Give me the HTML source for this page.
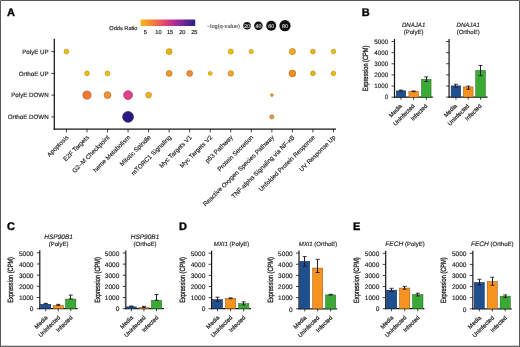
<!DOCTYPE html>
<html><head><meta charset="utf-8"><style>
html,body{margin:0;padding:0;background:#fff;}
body{width:520px;height:347px;overflow:hidden;}
svg{display:block;font-family:"Liberation Sans", sans-serif;will-change:transform;text-rendering:geometricPrecision;}
text{stroke:currentColor;stroke-width:0.15px;}
</style></head><body>
<svg width="520" height="347" viewBox="0 0 520 347">
<rect x="0" y="0" width="520" height="347" fill="#fff"/>
<text x="7.00" y="16.10" font-size="11" text-anchor="start" font-weight="bold" fill="#000" color="#000" style="stroke-width:0.35px">A</text>
<text x="361.80" y="16.40" font-size="11" text-anchor="start" font-weight="bold" fill="#000" color="#000" style="stroke-width:0.35px">B</text>
<text x="7.00" y="230.30" font-size="11" text-anchor="start" font-weight="bold" fill="#000" color="#000" style="stroke-width:0.35px">C</text>
<text x="179.00" y="230.30" font-size="11" text-anchor="start" font-weight="bold" fill="#000" color="#000" style="stroke-width:0.35px">D</text>
<text x="353.10" y="229.70" font-size="11" text-anchor="start" font-weight="bold" fill="#000" color="#000" style="stroke-width:0.35px">E</text>
<line x1="54.30" y1="38.80" x2="54.30" y2="129.80" stroke="#141414" stroke-width="1.25"/>
<line x1="53.70" y1="129.20" x2="336.00" y2="129.20" stroke="#141414" stroke-width="1.25"/>
<line x1="51.30" y1="51.60" x2="54.30" y2="51.60" stroke="#141414" stroke-width="0.8"/>
<text x="48.70" y="53.80" font-size="6.2" text-anchor="end" fill="#1c1c1c" color="#1c1c1c" >PolyE UP</text>
<line x1="51.30" y1="73.40" x2="54.30" y2="73.40" stroke="#141414" stroke-width="0.8"/>
<text x="48.70" y="75.60" font-size="6.2" text-anchor="end" fill="#1c1c1c" color="#1c1c1c" >OrthoE UP</text>
<line x1="51.30" y1="95.10" x2="54.30" y2="95.10" stroke="#141414" stroke-width="0.8"/>
<text x="48.70" y="97.30" font-size="6.2" text-anchor="end" fill="#1c1c1c" color="#1c1c1c" >PolyE DOWN</text>
<line x1="51.30" y1="116.90" x2="54.30" y2="116.90" stroke="#141414" stroke-width="0.8"/>
<text x="48.70" y="119.10" font-size="6.2" text-anchor="end" fill="#1c1c1c" color="#1c1c1c" >OrthoE DOWN</text>
<line x1="66.45" y1="129.20" x2="66.45" y2="132.40" stroke="#141414" stroke-width="0.8"/>
<text x="68.95" y="137.80" font-size="6.25" text-anchor="end" fill="#1c1c1c" color="#1c1c1c" transform="rotate(-45 68.95 137.80)">Apoptosis</text>
<line x1="86.99" y1="129.20" x2="86.99" y2="132.40" stroke="#141414" stroke-width="0.8"/>
<text x="89.49" y="137.80" font-size="6.25" text-anchor="end" fill="#1c1c1c" color="#1c1c1c" transform="rotate(-45 89.49 137.80)">E2F Targets</text>
<line x1="107.53" y1="129.20" x2="107.53" y2="132.40" stroke="#141414" stroke-width="0.8"/>
<text x="110.03" y="137.80" font-size="6.25" text-anchor="end" fill="#1c1c1c" color="#1c1c1c" transform="rotate(-45 110.03 137.80)">G2–M Checkpoint</text>
<line x1="128.07" y1="129.20" x2="128.07" y2="132.40" stroke="#141414" stroke-width="0.8"/>
<text x="130.57" y="137.80" font-size="6.25" text-anchor="end" fill="#1c1c1c" color="#1c1c1c" transform="rotate(-45 130.57 137.80)">heme Metabolism</text>
<line x1="148.61" y1="129.20" x2="148.61" y2="132.40" stroke="#141414" stroke-width="0.8"/>
<text x="151.11" y="137.80" font-size="6.25" text-anchor="end" fill="#1c1c1c" color="#1c1c1c" transform="rotate(-45 151.11 137.80)">Mitotic Spindle</text>
<line x1="169.15" y1="129.20" x2="169.15" y2="132.40" stroke="#141414" stroke-width="0.8"/>
<text x="171.65" y="137.80" font-size="6.25" text-anchor="end" fill="#1c1c1c" color="#1c1c1c" transform="rotate(-45 171.65 137.80)">mTORC1 Signaling</text>
<line x1="189.69" y1="129.20" x2="189.69" y2="132.40" stroke="#141414" stroke-width="0.8"/>
<text x="192.19" y="137.80" font-size="6.25" text-anchor="end" fill="#1c1c1c" color="#1c1c1c" transform="rotate(-45 192.19 137.80)">Myc Targets V1</text>
<line x1="210.23" y1="129.20" x2="210.23" y2="132.40" stroke="#141414" stroke-width="0.8"/>
<text x="212.73" y="137.80" font-size="6.25" text-anchor="end" fill="#1c1c1c" color="#1c1c1c" transform="rotate(-45 212.73 137.80)">Myc Targets V2</text>
<line x1="230.77" y1="129.20" x2="230.77" y2="132.40" stroke="#141414" stroke-width="0.8"/>
<text x="233.27" y="137.80" font-size="6.25" text-anchor="end" fill="#1c1c1c" color="#1c1c1c" transform="rotate(-45 233.27 137.80)">p53 Pathway</text>
<line x1="251.31" y1="129.20" x2="251.31" y2="132.40" stroke="#141414" stroke-width="0.8"/>
<text x="253.81" y="137.80" font-size="6.25" text-anchor="end" fill="#1c1c1c" color="#1c1c1c" transform="rotate(-45 253.81 137.80)">Protein Secretion</text>
<line x1="271.85" y1="129.20" x2="271.85" y2="132.40" stroke="#141414" stroke-width="0.8"/>
<text x="274.35" y="137.80" font-size="6.25" text-anchor="end" fill="#1c1c1c" color="#1c1c1c" transform="rotate(-45 274.35 137.80)">Reactive Oxygen Species Pathway</text>
<line x1="292.39" y1="129.20" x2="292.39" y2="132.40" stroke="#141414" stroke-width="0.8"/>
<text x="294.89" y="137.80" font-size="6.25" text-anchor="end" fill="#1c1c1c" color="#1c1c1c" transform="rotate(-45 294.89 137.80)">TNF-alpha Signaling via NF-κB</text>
<line x1="312.93" y1="129.20" x2="312.93" y2="132.40" stroke="#141414" stroke-width="0.8"/>
<text x="315.43" y="137.80" font-size="6.25" text-anchor="end" fill="#1c1c1c" color="#1c1c1c" transform="rotate(-45 315.43 137.80)">Unfolded Protein Response</text>
<line x1="333.47" y1="129.20" x2="333.47" y2="132.40" stroke="#141414" stroke-width="0.8"/>
<text x="335.97" y="137.80" font-size="6.25" text-anchor="end" fill="#1c1c1c" color="#1c1c1c" transform="rotate(-45 335.97 137.80)">UV Response Up</text>
<circle cx="66.45" cy="51.60" r="2.40" fill="#efbe14" stroke="#ba940f" stroke-width="0.7"/>
<circle cx="169.15" cy="51.60" r="2.95" fill="#e9b412" stroke="#b58c0e" stroke-width="0.7"/>
<circle cx="230.77" cy="51.60" r="2.55" fill="#efbe14" stroke="#ba940f" stroke-width="0.7"/>
<circle cx="251.31" cy="51.60" r="2.15" fill="#efbe14" stroke="#ba940f" stroke-width="0.7"/>
<circle cx="292.39" cy="51.60" r="3.05" fill="#f0a81c" stroke="#bb8315" stroke-width="0.7"/>
<circle cx="312.93" cy="51.60" r="2.40" fill="#ebb418" stroke="#b78c12" stroke-width="0.7"/>
<circle cx="333.47" cy="51.60" r="2.25" fill="#efbe14" stroke="#ba940f" stroke-width="0.7"/>
<circle cx="86.99" cy="73.40" r="2.40" fill="#efbe14" stroke="#ba940f" stroke-width="0.7"/>
<circle cx="107.53" cy="73.40" r="2.40" fill="#efbe14" stroke="#ba940f" stroke-width="0.7"/>
<circle cx="169.15" cy="73.40" r="2.95" fill="#f0962c" stroke="#bb7522" stroke-width="0.7"/>
<circle cx="189.69" cy="73.40" r="2.95" fill="#ee8e30" stroke="#b96e25" stroke-width="0.7"/>
<circle cx="210.23" cy="73.40" r="1.95" fill="#efbe14" stroke="#ba940f" stroke-width="0.7"/>
<circle cx="230.77" cy="73.40" r="2.75" fill="#f0a82a" stroke="#bb8320" stroke-width="0.7"/>
<circle cx="292.39" cy="73.40" r="3.35" fill="#f08e1f" stroke="#bb6e18" stroke-width="0.7"/>
<circle cx="312.93" cy="73.40" r="2.40" fill="#ebb418" stroke="#b78c12" stroke-width="0.7"/>
<circle cx="333.47" cy="73.40" r="2.25" fill="#efbc14" stroke="#ba920f" stroke-width="0.7"/>
<circle cx="86.99" cy="95.10" r="4.05" fill="#ee7834" stroke="#b95d28" stroke-width="0.7"/>
<circle cx="107.53" cy="95.10" r="3.45" fill="#f09236" stroke="#bb712a" stroke-width="0.7"/>
<circle cx="128.07" cy="95.10" r="4.45" fill="#e0408a" stroke="#ae316b" stroke-width="0.7"/>
<circle cx="148.61" cy="95.10" r="2.85" fill="#f0b024" stroke="#bb891c" stroke-width="0.7"/>
<circle cx="271.85" cy="95.10" r="1.40" fill="#e8a030" stroke="#b47c25" stroke-width="0.7"/>
<circle cx="128.07" cy="116.90" r="5.40" fill="#2b1b80" stroke="#211563" stroke-width="0.7"/>
<circle cx="271.85" cy="116.90" r="2.05" fill="#e39a48" stroke="#b17838" stroke-width="0.7"/>
<text x="137.50" y="29.80" font-size="5.65" text-anchor="end" fill="#1c1c1c" color="#1c1c1c" >Odds Ratio</text>
<defs><linearGradient id="cb" x1="0" x2="1" y1="0" y2="0"><stop offset="0" stop-color="#f6bb1f"/><stop offset="0.25" stop-color="#f27a3c"/><stop offset="0.45" stop-color="#e5427a"/><stop offset="0.65" stop-color="#a42a98"/><stop offset="0.85" stop-color="#5a2596"/><stop offset="1" stop-color="#2d1f80"/></linearGradient></defs>
<rect x="140.50" y="19.50" width="54.70" height="6.50" fill="url(#cb)" stroke="none" stroke-width="0"/>
<text x="145.40" y="34.20" font-size="5.7" text-anchor="middle" fill="#1c1c1c" color="#1c1c1c" >5</text>
<text x="158.50" y="34.20" font-size="5.7" text-anchor="middle" fill="#1c1c1c" color="#1c1c1c" >10</text>
<text x="170.10" y="34.20" font-size="5.7" text-anchor="middle" fill="#1c1c1c" color="#1c1c1c" >15</text>
<text x="182.30" y="34.20" font-size="5.7" text-anchor="middle" fill="#1c1c1c" color="#1c1c1c" >20</text>
<text x="194.30" y="34.20" font-size="5.7" text-anchor="middle" fill="#1c1c1c" color="#1c1c1c" >25</text>
<text x="206.90" y="27.80" font-size="5.65" text-anchor="start" fill="#3a3a3a" color="#3a3a3a" style="stroke-width:0.08px">−log(q-value)</text>
<circle cx="247.00" cy="25.70" r="3.80" fill="#111" stroke="none" stroke-width="0"/>
<text x="247.00" y="27.60" font-size="5.3" text-anchor="middle" fill="#f2f2f2" color="#f2f2f2" style="stroke-width:0.06px">20</text>
<circle cx="258.40" cy="25.70" r="4.30" fill="#111" stroke="none" stroke-width="0"/>
<text x="258.40" y="27.60" font-size="5.3" text-anchor="middle" fill="#f2f2f2" color="#f2f2f2" style="stroke-width:0.06px">40</text>
<circle cx="271.20" cy="25.70" r="5.00" fill="#111" stroke="none" stroke-width="0"/>
<text x="271.20" y="27.60" font-size="5.3" text-anchor="middle" fill="#f2f2f2" color="#f2f2f2" style="stroke-width:0.06px">60</text>
<circle cx="285.00" cy="25.70" r="5.60" fill="#111" stroke="none" stroke-width="0"/>
<text x="285.00" y="27.60" font-size="5.3" text-anchor="middle" fill="#f2f2f2" color="#f2f2f2" style="stroke-width:0.06px">80</text>
<text x="413.60" y="26.60" font-size="6.1" text-anchor="middle" font-style="italic" fill="#1c1c1c" color="#1c1c1c" >DNAJA1</text>
<text x="413.60" y="33.70" font-size="6.0" text-anchor="middle" fill="#1c1c1c" color="#1c1c1c" >(PolyE)</text>
<text x="468.20" y="26.60" font-size="6.1" text-anchor="middle" font-style="italic" fill="#1c1c1c" color="#1c1c1c" >DNAJA1</text>
<text x="468.20" y="33.70" font-size="6.0" text-anchor="middle" fill="#1c1c1c" color="#1c1c1c" >(OrthoE)</text>
<line x1="394.50" y1="39.00" x2="394.50" y2="97.70" stroke="#141414" stroke-width="1.2"/>
<line x1="391.50" y1="97.20" x2="394.50" y2="97.20" stroke="#141414" stroke-width="0.8"/>
<text x="388.20" y="99.45" font-size="6.3" text-anchor="end" fill="#1c1c1c" color="#1c1c1c" >0</text>
<line x1="391.50" y1="86.06" x2="394.50" y2="86.06" stroke="#141414" stroke-width="0.8"/>
<text x="388.20" y="88.31" font-size="6.3" text-anchor="end" fill="#1c1c1c" color="#1c1c1c" >1000</text>
<line x1="391.50" y1="74.92" x2="394.50" y2="74.92" stroke="#141414" stroke-width="0.8"/>
<text x="388.20" y="77.17" font-size="6.3" text-anchor="end" fill="#1c1c1c" color="#1c1c1c" >2000</text>
<line x1="391.50" y1="63.78" x2="394.50" y2="63.78" stroke="#141414" stroke-width="0.8"/>
<text x="388.20" y="66.03" font-size="6.3" text-anchor="end" fill="#1c1c1c" color="#1c1c1c" >3000</text>
<line x1="391.50" y1="52.64" x2="394.50" y2="52.64" stroke="#141414" stroke-width="0.8"/>
<text x="388.20" y="54.89" font-size="6.3" text-anchor="end" fill="#1c1c1c" color="#1c1c1c" >4000</text>
<line x1="391.50" y1="41.50" x2="394.50" y2="41.50" stroke="#141414" stroke-width="0.8"/>
<text x="388.20" y="43.75" font-size="6.3" text-anchor="end" fill="#1c1c1c" color="#1c1c1c" >5000</text>
<text x="0" y="0" font-size="7.6" text-anchor="middle" fill="#1c1c1c" color="#1c1c1c" style="stroke-width:0.3px" transform="translate(367.50 68.45) rotate(-90) scale(0.74 1)">Expression (CPM)</text>
<line x1="393.90" y1="97.20" x2="432.80" y2="97.20" stroke="#141414" stroke-width="1.2"/>
<rect x="396.25" y="90.86" width="9.50" height="6.34" fill="#1f4f8e" stroke="#112b4e" stroke-width="0.5"/>
<line x1="400.50" y1="90.10" x2="400.50" y2="91.11" stroke="#26192b" stroke-width="1.0"/>
<line x1="399.00" y1="90.10" x2="403.00" y2="90.10" stroke="#26192b" stroke-width="0.9"/>
<line x1="399.00" y1="91.11" x2="403.00" y2="91.11" stroke="#26192b" stroke-width="0.9"/>
<line x1="401.00" y1="97.20" x2="401.00" y2="99.80" stroke="#141414" stroke-width="0.8"/>
<text x="402.40" y="106.50" font-size="5.8" text-anchor="end" fill="#1c1c1c" color="#1c1c1c" style="stroke-width:0.2px" transform="rotate(-45 402.40 106.50)">Media</text>
<rect x="408.90" y="91.55" width="9.50" height="5.65" fill="#f7931e" stroke="#875010" stroke-width="0.5"/>
<line x1="413.50" y1="90.96" x2="413.50" y2="91.63" stroke="#26192b" stroke-width="1.0"/>
<line x1="411.65" y1="90.96" x2="415.65" y2="90.96" stroke="#26192b" stroke-width="0.9"/>
<line x1="411.65" y1="91.63" x2="415.65" y2="91.63" stroke="#26192b" stroke-width="0.9"/>
<line x1="413.65" y1="97.20" x2="413.65" y2="99.80" stroke="#141414" stroke-width="0.8"/>
<text x="415.05" y="106.50" font-size="5.8" text-anchor="end" fill="#1c1c1c" color="#1c1c1c" style="stroke-width:0.2px" transform="rotate(-45 415.05 106.50)">Uninfected</text>
<rect x="421.55" y="79.35" width="9.50" height="17.85" fill="#3aaa35" stroke="#1f5d1d" stroke-width="0.5"/>
<line x1="426.50" y1="76.90" x2="426.50" y2="81.50" stroke="#26192b" stroke-width="1.0"/>
<line x1="424.30" y1="76.90" x2="428.30" y2="76.90" stroke="#26192b" stroke-width="0.9"/>
<line x1="424.30" y1="81.50" x2="428.30" y2="81.50" stroke="#26192b" stroke-width="0.9"/>
<line x1="426.30" y1="97.20" x2="426.30" y2="99.80" stroke="#141414" stroke-width="0.8"/>
<text x="427.70" y="106.50" font-size="5.8" text-anchor="end" fill="#1c1c1c" color="#1c1c1c" style="stroke-width:0.2px" transform="rotate(-45 427.70 106.50)">Infected</text>
<line x1="449.10" y1="39.00" x2="449.10" y2="97.60" stroke="#505050" stroke-width="1.6"/>
<line x1="446.10" y1="97.10" x2="449.10" y2="97.10" stroke="#141414" stroke-width="0.8"/>
<line x1="446.10" y1="85.98" x2="449.10" y2="85.98" stroke="#141414" stroke-width="0.8"/>
<line x1="446.10" y1="74.86" x2="449.10" y2="74.86" stroke="#141414" stroke-width="0.8"/>
<line x1="446.10" y1="63.74" x2="449.10" y2="63.74" stroke="#141414" stroke-width="0.8"/>
<line x1="446.10" y1="52.62" x2="449.10" y2="52.62" stroke="#141414" stroke-width="0.8"/>
<line x1="446.10" y1="41.50" x2="449.10" y2="41.50" stroke="#141414" stroke-width="0.8"/>
<line x1="448.50" y1="97.10" x2="487.60" y2="97.10" stroke="#141414" stroke-width="1.2"/>
<rect x="451.15" y="85.87" width="9.60" height="11.23" fill="#1f4f8e" stroke="#112b4e" stroke-width="0.5"/>
<line x1="455.50" y1="84.22" x2="455.50" y2="87.03" stroke="#26192b" stroke-width="1.0"/>
<line x1="453.95" y1="84.22" x2="457.95" y2="84.22" stroke="#26192b" stroke-width="0.9"/>
<line x1="453.95" y1="87.03" x2="457.95" y2="87.03" stroke="#26192b" stroke-width="0.9"/>
<line x1="455.95" y1="97.10" x2="455.95" y2="99.70" stroke="#141414" stroke-width="0.8"/>
<text x="457.35" y="106.40" font-size="5.8" text-anchor="end" fill="#1c1c1c" color="#1c1c1c" style="stroke-width:0.2px" transform="rotate(-45 457.35 106.40)">Media</text>
<rect x="463.45" y="86.96" width="9.60" height="10.14" fill="#f7931e" stroke="#875010" stroke-width="0.5"/>
<line x1="468.50" y1="86.11" x2="468.50" y2="89.22" stroke="#26192b" stroke-width="1.0"/>
<line x1="466.25" y1="86.11" x2="470.25" y2="86.11" stroke="#26192b" stroke-width="0.9"/>
<line x1="466.25" y1="89.22" x2="470.25" y2="89.22" stroke="#26192b" stroke-width="0.9"/>
<line x1="468.25" y1="97.10" x2="468.25" y2="99.70" stroke="#141414" stroke-width="0.8"/>
<text x="469.65" y="106.40" font-size="5.8" text-anchor="end" fill="#1c1c1c" color="#1c1c1c" style="stroke-width:0.2px" transform="rotate(-45 469.65 106.40)">Uninfected</text>
<rect x="475.75" y="70.50" width="9.60" height="26.60" fill="#3aaa35" stroke="#1f5d1d" stroke-width="0.5"/>
<line x1="480.50" y1="65.45" x2="480.50" y2="75.74" stroke="#26192b" stroke-width="1.0"/>
<line x1="478.55" y1="65.45" x2="482.55" y2="65.45" stroke="#26192b" stroke-width="0.9"/>
<line x1="478.55" y1="75.74" x2="482.55" y2="75.74" stroke="#26192b" stroke-width="0.9"/>
<line x1="480.55" y1="97.10" x2="480.55" y2="99.70" stroke="#141414" stroke-width="0.8"/>
<text x="481.95" y="106.40" font-size="5.8" text-anchor="end" fill="#1c1c1c" color="#1c1c1c" style="stroke-width:0.2px" transform="rotate(-45 481.95 106.40)">Infected</text>
<text x="58.60" y="238.60" font-size="6.5" text-anchor="middle" font-style="italic" fill="#1c1c1c" color="#1c1c1c" >HSP90B1</text>
<text x="58.60" y="245.70" font-size="6.0" text-anchor="middle" fill="#1c1c1c" color="#1c1c1c" >(PolyE)</text>
<text x="145.00" y="238.70" font-size="6.5" text-anchor="middle" font-style="italic" fill="#1c1c1c" color="#1c1c1c" >HSP90B1</text>
<text x="145.00" y="245.80" font-size="6.0" text-anchor="middle" fill="#1c1c1c" color="#1c1c1c" >(OrthoE)</text>
<line x1="39.80" y1="250.30" x2="39.80" y2="309.20" stroke="#141414" stroke-width="1.2"/>
<line x1="36.80" y1="308.70" x2="39.80" y2="308.70" stroke="#141414" stroke-width="0.8"/>
<text x="33.50" y="311.40" font-size="6.55" text-anchor="end" fill="#1c1c1c" color="#1c1c1c" >0</text>
<line x1="36.80" y1="297.52" x2="39.80" y2="297.52" stroke="#141414" stroke-width="0.8"/>
<text x="33.50" y="300.22" font-size="6.55" text-anchor="end" fill="#1c1c1c" color="#1c1c1c" >1000</text>
<line x1="36.80" y1="286.34" x2="39.80" y2="286.34" stroke="#141414" stroke-width="0.8"/>
<text x="33.50" y="289.04" font-size="6.55" text-anchor="end" fill="#1c1c1c" color="#1c1c1c" >2000</text>
<line x1="36.80" y1="275.16" x2="39.80" y2="275.16" stroke="#141414" stroke-width="0.8"/>
<text x="33.50" y="277.86" font-size="6.55" text-anchor="end" fill="#1c1c1c" color="#1c1c1c" >3000</text>
<line x1="36.80" y1="263.98" x2="39.80" y2="263.98" stroke="#141414" stroke-width="0.8"/>
<text x="33.50" y="266.68" font-size="6.55" text-anchor="end" fill="#1c1c1c" color="#1c1c1c" >4000</text>
<line x1="36.80" y1="252.80" x2="39.80" y2="252.80" stroke="#141414" stroke-width="0.8"/>
<text x="33.50" y="255.50" font-size="6.55" text-anchor="end" fill="#1c1c1c" color="#1c1c1c" >5000</text>
<text x="0" y="0" font-size="7.6" text-anchor="middle" fill="#1c1c1c" color="#1c1c1c" style="stroke-width:0.3px" transform="translate(13.30 279.85) rotate(-90) scale(0.74 1)">Expression (CPM)</text>
<line x1="39.20" y1="308.70" x2="77.60" y2="308.70" stroke="#141414" stroke-width="1.2"/>
<rect x="40.65" y="304.28" width="10.20" height="4.42" fill="#1f4f8e" stroke="#112b4e" stroke-width="0.5"/>
<line x1="45.50" y1="303.33" x2="45.50" y2="304.03" stroke="#26192b" stroke-width="1.0"/>
<line x1="43.75" y1="303.33" x2="47.75" y2="303.33" stroke="#26192b" stroke-width="0.9"/>
<line x1="43.75" y1="304.03" x2="47.75" y2="304.03" stroke="#26192b" stroke-width="0.9"/>
<line x1="45.75" y1="308.70" x2="45.75" y2="311.30" stroke="#141414" stroke-width="0.8"/>
<text x="47.95" y="318.00" font-size="5.8" text-anchor="end" fill="#1c1c1c" color="#1c1c1c" style="stroke-width:0.2px" transform="rotate(-45 47.95 318.00)">Media</text>
<rect x="53.15" y="305.66" width="10.20" height="3.04" fill="#f7931e" stroke="#875010" stroke-width="0.5"/>
<line x1="58.50" y1="304.33" x2="58.50" y2="305.41" stroke="#26192b" stroke-width="1.0"/>
<line x1="56.25" y1="304.33" x2="60.25" y2="304.33" stroke="#26192b" stroke-width="0.9"/>
<line x1="56.25" y1="305.41" x2="60.25" y2="305.41" stroke="#26192b" stroke-width="0.9"/>
<line x1="58.25" y1="308.70" x2="58.25" y2="311.30" stroke="#141414" stroke-width="0.8"/>
<text x="60.45" y="318.00" font-size="5.8" text-anchor="end" fill="#1c1c1c" color="#1c1c1c" style="stroke-width:0.2px" transform="rotate(-45 60.45 318.00)">Uninfected</text>
<rect x="65.65" y="299.10" width="10.20" height="9.60" fill="#3aaa35" stroke="#1f5d1d" stroke-width="0.5"/>
<line x1="70.50" y1="295.07" x2="70.50" y2="298.85" stroke="#26192b" stroke-width="1.0"/>
<line x1="68.75" y1="295.07" x2="72.75" y2="295.07" stroke="#26192b" stroke-width="0.9"/>
<line x1="68.75" y1="298.85" x2="72.75" y2="298.85" stroke="#26192b" stroke-width="0.9"/>
<line x1="70.75" y1="308.70" x2="70.75" y2="311.30" stroke="#141414" stroke-width="0.8"/>
<text x="72.95" y="318.00" font-size="5.8" text-anchor="end" fill="#1c1c1c" color="#1c1c1c" style="stroke-width:0.2px" transform="rotate(-45 72.95 318.00)">Infected</text>
<line x1="125.70" y1="250.50" x2="125.70" y2="309.20" stroke="#505050" stroke-width="1.7"/>
<line x1="122.70" y1="308.70" x2="125.70" y2="308.70" stroke="#141414" stroke-width="0.8"/>
<text x="119.40" y="311.40" font-size="6.55" text-anchor="end" fill="#1c1c1c" color="#1c1c1c" >0</text>
<line x1="122.70" y1="297.56" x2="125.70" y2="297.56" stroke="#141414" stroke-width="0.8"/>
<text x="119.40" y="300.26" font-size="6.55" text-anchor="end" fill="#1c1c1c" color="#1c1c1c" >1000</text>
<line x1="122.70" y1="286.42" x2="125.70" y2="286.42" stroke="#141414" stroke-width="0.8"/>
<text x="119.40" y="289.12" font-size="6.55" text-anchor="end" fill="#1c1c1c" color="#1c1c1c" >2000</text>
<line x1="122.70" y1="275.28" x2="125.70" y2="275.28" stroke="#141414" stroke-width="0.8"/>
<text x="119.40" y="277.98" font-size="6.55" text-anchor="end" fill="#1c1c1c" color="#1c1c1c" >3000</text>
<line x1="122.70" y1="264.14" x2="125.70" y2="264.14" stroke="#141414" stroke-width="0.8"/>
<text x="119.40" y="266.84" font-size="6.55" text-anchor="end" fill="#1c1c1c" color="#1c1c1c" >4000</text>
<line x1="122.70" y1="253.00" x2="125.70" y2="253.00" stroke="#141414" stroke-width="0.8"/>
<text x="119.40" y="255.70" font-size="6.55" text-anchor="end" fill="#1c1c1c" color="#1c1c1c" >5000</text>
<text x="0" y="0" font-size="7.6" text-anchor="middle" fill="#1c1c1c" color="#1c1c1c" style="stroke-width:0.3px" transform="translate(100.00 279.95) rotate(-90) scale(0.74 1)">Expression (CPM)</text>
<line x1="125.10" y1="308.70" x2="163.90" y2="308.70" stroke="#141414" stroke-width="1.2"/>
<rect x="126.25" y="306.87" width="10.20" height="1.83" fill="#1f4f8e" stroke="#112b4e" stroke-width="0.5"/>
<line x1="131.50" y1="306.03" x2="131.50" y2="306.62" stroke="#26192b" stroke-width="1.0"/>
<line x1="129.35" y1="306.03" x2="133.35" y2="306.03" stroke="#26192b" stroke-width="0.9"/>
<line x1="129.35" y1="306.62" x2="133.35" y2="306.62" stroke="#26192b" stroke-width="0.9"/>
<line x1="131.35" y1="308.70" x2="131.35" y2="311.30" stroke="#141414" stroke-width="0.8"/>
<text x="133.55" y="318.00" font-size="5.8" text-anchor="end" fill="#1c1c1c" color="#1c1c1c" style="stroke-width:0.2px" transform="rotate(-45 133.55 318.00)">Media</text>
<rect x="138.85" y="307.66" width="10.20" height="1.04" fill="#f7931e" stroke="#875010" stroke-width="0.5"/>
<line x1="143.50" y1="306.32" x2="143.50" y2="307.41" stroke="#26192b" stroke-width="1.0"/>
<line x1="141.95" y1="306.32" x2="145.95" y2="306.32" stroke="#26192b" stroke-width="0.9"/>
<line x1="141.95" y1="307.41" x2="145.95" y2="307.41" stroke="#26192b" stroke-width="0.9"/>
<line x1="143.95" y1="308.70" x2="143.95" y2="311.30" stroke="#141414" stroke-width="0.8"/>
<text x="146.15" y="318.00" font-size="5.8" text-anchor="end" fill="#1c1c1c" color="#1c1c1c" style="stroke-width:0.2px" transform="rotate(-45 146.15 318.00)">Uninfected</text>
<rect x="151.45" y="300.42" width="10.20" height="8.28" fill="#3aaa35" stroke="#1f5d1d" stroke-width="0.5"/>
<line x1="156.50" y1="294.51" x2="156.50" y2="300.17" stroke="#26192b" stroke-width="1.0"/>
<line x1="154.55" y1="294.51" x2="158.55" y2="294.51" stroke="#26192b" stroke-width="0.9"/>
<line x1="154.55" y1="300.17" x2="158.55" y2="300.17" stroke="#26192b" stroke-width="0.9"/>
<line x1="156.55" y1="308.70" x2="156.55" y2="311.30" stroke="#141414" stroke-width="0.8"/>
<text x="158.75" y="318.00" font-size="5.8" text-anchor="end" fill="#1c1c1c" color="#1c1c1c" style="stroke-width:0.2px" transform="rotate(-45 158.75 318.00)">Infected</text>
<text x="231.5" y="246.0" font-size="6.0" text-anchor="middle" fill="#1c1c1c" color="#1c1c1c"><tspan font-style="italic" font-size="6.0">MXI1</tspan> (PolyE)</text>
<text x="318.0" y="246.0" font-size="6.0" text-anchor="middle" fill="#1c1c1c" color="#1c1c1c"><tspan font-style="italic" font-size="6.0">MXI1</tspan> (OrthoE)</text>
<line x1="211.60" y1="250.70" x2="211.60" y2="309.20" stroke="#141414" stroke-width="1.2"/>
<line x1="208.60" y1="308.70" x2="211.60" y2="308.70" stroke="#141414" stroke-width="0.8"/>
<text x="205.30" y="311.40" font-size="6.55" text-anchor="end" fill="#1c1c1c" color="#1c1c1c" >0</text>
<line x1="208.60" y1="297.60" x2="211.60" y2="297.60" stroke="#141414" stroke-width="0.8"/>
<text x="205.30" y="300.30" font-size="6.55" text-anchor="end" fill="#1c1c1c" color="#1c1c1c" >1000</text>
<line x1="208.60" y1="286.50" x2="211.60" y2="286.50" stroke="#141414" stroke-width="0.8"/>
<text x="205.30" y="289.20" font-size="6.55" text-anchor="end" fill="#1c1c1c" color="#1c1c1c" >2000</text>
<line x1="208.60" y1="275.40" x2="211.60" y2="275.40" stroke="#141414" stroke-width="0.8"/>
<text x="205.30" y="278.10" font-size="6.55" text-anchor="end" fill="#1c1c1c" color="#1c1c1c" >3000</text>
<line x1="208.60" y1="264.30" x2="211.60" y2="264.30" stroke="#141414" stroke-width="0.8"/>
<text x="205.30" y="267.00" font-size="6.55" text-anchor="end" fill="#1c1c1c" color="#1c1c1c" >4000</text>
<line x1="208.60" y1="253.20" x2="211.60" y2="253.20" stroke="#141414" stroke-width="0.8"/>
<text x="205.30" y="255.90" font-size="6.55" text-anchor="end" fill="#1c1c1c" color="#1c1c1c" >5000</text>
<text x="0" y="0" font-size="7.6" text-anchor="middle" fill="#1c1c1c" color="#1c1c1c" style="stroke-width:0.3px" transform="translate(184.50 280.05) rotate(-90) scale(0.74 1)">Expression (CPM)</text>
<line x1="211.00" y1="308.70" x2="250.90" y2="308.70" stroke="#141414" stroke-width="1.2"/>
<rect x="212.35" y="299.55" width="10.30" height="9.15" fill="#1f4f8e" stroke="#112b4e" stroke-width="0.5"/>
<line x1="217.50" y1="297.20" x2="217.50" y2="301.40" stroke="#26192b" stroke-width="1.0"/>
<line x1="215.50" y1="297.20" x2="219.50" y2="297.20" stroke="#26192b" stroke-width="0.9"/>
<line x1="215.50" y1="301.40" x2="219.50" y2="301.40" stroke="#26192b" stroke-width="0.9"/>
<line x1="217.50" y1="308.70" x2="217.50" y2="311.30" stroke="#141414" stroke-width="0.8"/>
<text x="219.70" y="318.00" font-size="5.8" text-anchor="end" fill="#1c1c1c" color="#1c1c1c" style="stroke-width:0.2px" transform="rotate(-45 219.70 318.00)">Media</text>
<rect x="225.45" y="298.55" width="10.30" height="10.15" fill="#f7931e" stroke="#875010" stroke-width="0.5"/>
<line x1="230.50" y1="297.90" x2="230.50" y2="298.71" stroke="#26192b" stroke-width="1.0"/>
<line x1="228.60" y1="297.90" x2="232.60" y2="297.90" stroke="#26192b" stroke-width="0.9"/>
<line x1="228.60" y1="298.71" x2="232.60" y2="298.71" stroke="#26192b" stroke-width="0.9"/>
<line x1="230.60" y1="308.70" x2="230.60" y2="311.30" stroke="#141414" stroke-width="0.8"/>
<text x="232.80" y="318.00" font-size="5.8" text-anchor="end" fill="#1c1c1c" color="#1c1c1c" style="stroke-width:0.2px" transform="rotate(-45 232.80 318.00)">Uninfected</text>
<rect x="238.55" y="303.66" width="10.30" height="5.04" fill="#3aaa35" stroke="#1f5d1d" stroke-width="0.5"/>
<line x1="243.50" y1="301.80" x2="243.50" y2="305.01" stroke="#26192b" stroke-width="1.0"/>
<line x1="241.70" y1="301.80" x2="245.70" y2="301.80" stroke="#26192b" stroke-width="0.9"/>
<line x1="241.70" y1="305.01" x2="245.70" y2="305.01" stroke="#26192b" stroke-width="0.9"/>
<line x1="243.70" y1="308.70" x2="243.70" y2="311.30" stroke="#141414" stroke-width="0.8"/>
<text x="245.90" y="318.00" font-size="5.8" text-anchor="end" fill="#1c1c1c" color="#1c1c1c" style="stroke-width:0.2px" transform="rotate(-45 245.90 318.00)">Infected</text>
<line x1="299.00" y1="250.60" x2="299.00" y2="309.30" stroke="#141414" stroke-width="1.2"/>
<line x1="296.00" y1="308.80" x2="299.00" y2="308.80" stroke="#141414" stroke-width="0.8"/>
<text x="292.70" y="311.50" font-size="6.55" text-anchor="end" fill="#1c1c1c" color="#1c1c1c" >0</text>
<line x1="296.00" y1="297.66" x2="299.00" y2="297.66" stroke="#141414" stroke-width="0.8"/>
<text x="292.70" y="300.36" font-size="6.55" text-anchor="end" fill="#1c1c1c" color="#1c1c1c" >1000</text>
<line x1="296.00" y1="286.52" x2="299.00" y2="286.52" stroke="#141414" stroke-width="0.8"/>
<text x="292.70" y="289.22" font-size="6.55" text-anchor="end" fill="#1c1c1c" color="#1c1c1c" >2000</text>
<line x1="296.00" y1="275.38" x2="299.00" y2="275.38" stroke="#141414" stroke-width="0.8"/>
<text x="292.70" y="278.08" font-size="6.55" text-anchor="end" fill="#1c1c1c" color="#1c1c1c" >3000</text>
<line x1="296.00" y1="264.24" x2="299.00" y2="264.24" stroke="#141414" stroke-width="0.8"/>
<text x="292.70" y="266.94" font-size="6.55" text-anchor="end" fill="#1c1c1c" color="#1c1c1c" >4000</text>
<line x1="296.00" y1="253.10" x2="299.00" y2="253.10" stroke="#141414" stroke-width="0.8"/>
<text x="292.70" y="255.80" font-size="6.55" text-anchor="end" fill="#1c1c1c" color="#1c1c1c" >5000</text>
<text x="0" y="0" font-size="7.6" text-anchor="middle" fill="#1c1c1c" color="#1c1c1c" style="stroke-width:0.3px" transform="translate(273.30 280.05) rotate(-90) scale(0.74 1)">Expression (CPM)</text>
<line x1="298.40" y1="308.80" x2="337.10" y2="308.80" stroke="#141414" stroke-width="1.2"/>
<rect x="299.75" y="261.35" width="10.00" height="47.45" fill="#1f4f8e" stroke="#112b4e" stroke-width="0.5"/>
<line x1="304.50" y1="256.60" x2="304.50" y2="266.20" stroke="#26192b" stroke-width="1.0"/>
<line x1="302.75" y1="256.60" x2="306.75" y2="256.60" stroke="#26192b" stroke-width="0.9"/>
<line x1="302.75" y1="266.20" x2="306.75" y2="266.20" stroke="#26192b" stroke-width="0.9"/>
<line x1="304.75" y1="308.80" x2="304.75" y2="311.40" stroke="#141414" stroke-width="0.8"/>
<text x="306.95" y="318.10" font-size="5.8" text-anchor="end" fill="#1c1c1c" color="#1c1c1c" style="stroke-width:0.2px" transform="rotate(-45 306.95 318.10)">Media</text>
<rect x="312.70" y="268.05" width="10.00" height="40.75" fill="#f7931e" stroke="#875010" stroke-width="0.5"/>
<line x1="317.50" y1="259.30" x2="317.50" y2="272.51" stroke="#26192b" stroke-width="1.0"/>
<line x1="315.70" y1="259.30" x2="319.70" y2="259.30" stroke="#26192b" stroke-width="0.9"/>
<line x1="315.70" y1="272.51" x2="319.70" y2="272.51" stroke="#26192b" stroke-width="0.9"/>
<line x1="317.70" y1="308.80" x2="317.70" y2="311.40" stroke="#141414" stroke-width="0.8"/>
<text x="319.90" y="318.10" font-size="5.8" text-anchor="end" fill="#1c1c1c" color="#1c1c1c" style="stroke-width:0.2px" transform="rotate(-45 319.90 318.10)">Uninfected</text>
<rect x="325.65" y="294.90" width="10.00" height="13.90" fill="#3aaa35" stroke="#1f5d1d" stroke-width="0.5"/>
<line x1="330.50" y1="294.32" x2="330.50" y2="294.99" stroke="#26192b" stroke-width="1.0"/>
<line x1="328.65" y1="294.32" x2="332.65" y2="294.32" stroke="#26192b" stroke-width="0.9"/>
<line x1="328.65" y1="294.99" x2="332.65" y2="294.99" stroke="#26192b" stroke-width="0.9"/>
<line x1="330.65" y1="308.80" x2="330.65" y2="311.40" stroke="#141414" stroke-width="0.8"/>
<text x="332.85" y="318.10" font-size="5.8" text-anchor="end" fill="#1c1c1c" color="#1c1c1c" style="stroke-width:0.2px" transform="rotate(-45 332.85 318.10)">Infected</text>
<text x="405.0" y="245.8" font-size="6.0" text-anchor="middle" fill="#1c1c1c" color="#1c1c1c"><tspan font-style="italic" font-size="6.6">FECH</tspan> (PolyE)</text>
<text x="492.2" y="245.9" font-size="6.0" text-anchor="middle" fill="#1c1c1c" color="#1c1c1c"><tspan font-style="italic" font-size="6.6">FECH</tspan> (OrthoE)</text>
<line x1="385.70" y1="250.80" x2="385.70" y2="309.20" stroke="#141414" stroke-width="1.2"/>
<line x1="382.70" y1="308.70" x2="385.70" y2="308.70" stroke="#141414" stroke-width="0.8"/>
<text x="379.40" y="311.40" font-size="6.55" text-anchor="end" fill="#1c1c1c" color="#1c1c1c" >0</text>
<line x1="382.70" y1="297.62" x2="385.70" y2="297.62" stroke="#141414" stroke-width="0.8"/>
<text x="379.40" y="300.32" font-size="6.55" text-anchor="end" fill="#1c1c1c" color="#1c1c1c" >1000</text>
<line x1="382.70" y1="286.54" x2="385.70" y2="286.54" stroke="#141414" stroke-width="0.8"/>
<text x="379.40" y="289.24" font-size="6.55" text-anchor="end" fill="#1c1c1c" color="#1c1c1c" >2000</text>
<line x1="382.70" y1="275.46" x2="385.70" y2="275.46" stroke="#141414" stroke-width="0.8"/>
<text x="379.40" y="278.16" font-size="6.55" text-anchor="end" fill="#1c1c1c" color="#1c1c1c" >3000</text>
<line x1="382.70" y1="264.38" x2="385.70" y2="264.38" stroke="#141414" stroke-width="0.8"/>
<text x="379.40" y="267.08" font-size="6.55" text-anchor="end" fill="#1c1c1c" color="#1c1c1c" >4000</text>
<line x1="382.70" y1="253.30" x2="385.70" y2="253.30" stroke="#141414" stroke-width="0.8"/>
<text x="379.40" y="256.00" font-size="6.55" text-anchor="end" fill="#1c1c1c" color="#1c1c1c" >5000</text>
<text x="0" y="0" font-size="7.6" text-anchor="middle" fill="#1c1c1c" color="#1c1c1c" style="stroke-width:0.3px" transform="translate(358.80 280.10) rotate(-90) scale(0.74 1)">Expression (CPM)</text>
<line x1="385.10" y1="308.70" x2="424.40" y2="308.70" stroke="#141414" stroke-width="1.2"/>
<rect x="386.45" y="290.15" width="10.30" height="18.55" fill="#1f4f8e" stroke="#112b4e" stroke-width="0.5"/>
<line x1="391.50" y1="288.30" x2="391.50" y2="291.42" stroke="#26192b" stroke-width="1.0"/>
<line x1="389.60" y1="288.30" x2="393.60" y2="288.30" stroke="#26192b" stroke-width="0.9"/>
<line x1="389.60" y1="291.42" x2="393.60" y2="291.42" stroke="#26192b" stroke-width="0.9"/>
<line x1="391.60" y1="308.70" x2="391.60" y2="311.30" stroke="#141414" stroke-width="0.8"/>
<text x="393.80" y="318.00" font-size="5.8" text-anchor="end" fill="#1c1c1c" color="#1c1c1c" style="stroke-width:0.2px" transform="rotate(-45 393.80 318.00)">Media</text>
<rect x="399.55" y="288.05" width="10.30" height="20.65" fill="#f7931e" stroke="#875010" stroke-width="0.5"/>
<line x1="404.50" y1="286.40" x2="404.50" y2="289.20" stroke="#26192b" stroke-width="1.0"/>
<line x1="402.70" y1="286.40" x2="406.70" y2="286.40" stroke="#26192b" stroke-width="0.9"/>
<line x1="402.70" y1="289.20" x2="406.70" y2="289.20" stroke="#26192b" stroke-width="0.9"/>
<line x1="404.70" y1="308.70" x2="404.70" y2="311.30" stroke="#141414" stroke-width="0.8"/>
<text x="406.90" y="318.00" font-size="5.8" text-anchor="end" fill="#1c1c1c" color="#1c1c1c" style="stroke-width:0.2px" transform="rotate(-45 406.90 318.00)">Uninfected</text>
<rect x="412.65" y="294.55" width="10.30" height="14.15" fill="#3aaa35" stroke="#1f5d1d" stroke-width="0.5"/>
<line x1="417.50" y1="293.19" x2="417.50" y2="295.96" stroke="#26192b" stroke-width="1.0"/>
<line x1="415.80" y1="293.19" x2="419.80" y2="293.19" stroke="#26192b" stroke-width="0.9"/>
<line x1="415.80" y1="295.96" x2="419.80" y2="295.96" stroke="#26192b" stroke-width="0.9"/>
<line x1="417.80" y1="308.70" x2="417.80" y2="311.30" stroke="#141414" stroke-width="0.8"/>
<text x="420.00" y="318.00" font-size="5.8" text-anchor="end" fill="#1c1c1c" color="#1c1c1c" style="stroke-width:0.2px" transform="rotate(-45 420.00 318.00)">Infected</text>
<line x1="472.80" y1="250.80" x2="472.80" y2="309.30" stroke="#505050" stroke-width="1.6"/>
<line x1="469.80" y1="308.80" x2="472.80" y2="308.80" stroke="#141414" stroke-width="0.8"/>
<text x="466.50" y="311.50" font-size="6.55" text-anchor="end" fill="#1c1c1c" color="#1c1c1c" >0</text>
<line x1="469.80" y1="297.70" x2="472.80" y2="297.70" stroke="#141414" stroke-width="0.8"/>
<text x="466.50" y="300.40" font-size="6.55" text-anchor="end" fill="#1c1c1c" color="#1c1c1c" >1000</text>
<line x1="469.80" y1="286.60" x2="472.80" y2="286.60" stroke="#141414" stroke-width="0.8"/>
<text x="466.50" y="289.30" font-size="6.55" text-anchor="end" fill="#1c1c1c" color="#1c1c1c" >2000</text>
<line x1="469.80" y1="275.50" x2="472.80" y2="275.50" stroke="#141414" stroke-width="0.8"/>
<text x="466.50" y="278.20" font-size="6.55" text-anchor="end" fill="#1c1c1c" color="#1c1c1c" >3000</text>
<line x1="469.80" y1="264.40" x2="472.80" y2="264.40" stroke="#141414" stroke-width="0.8"/>
<text x="466.50" y="267.10" font-size="6.55" text-anchor="end" fill="#1c1c1c" color="#1c1c1c" >4000</text>
<line x1="469.80" y1="253.30" x2="472.80" y2="253.30" stroke="#141414" stroke-width="0.8"/>
<text x="466.50" y="256.00" font-size="6.55" text-anchor="end" fill="#1c1c1c" color="#1c1c1c" >5000</text>
<text x="0" y="0" font-size="7.6" text-anchor="middle" fill="#1c1c1c" color="#1c1c1c" style="stroke-width:0.3px" transform="translate(446.20 280.15) rotate(-90) scale(0.74 1)">Expression (CPM)</text>
<line x1="472.20" y1="308.80" x2="511.70" y2="308.80" stroke="#141414" stroke-width="1.2"/>
<rect x="474.25" y="282.45" width="10.10" height="26.35" fill="#1f4f8e" stroke="#112b4e" stroke-width="0.5"/>
<line x1="479.50" y1="279.30" x2="479.50" y2="285.05" stroke="#26192b" stroke-width="1.0"/>
<line x1="477.30" y1="279.30" x2="481.30" y2="279.30" stroke="#26192b" stroke-width="0.9"/>
<line x1="477.30" y1="285.05" x2="481.30" y2="285.05" stroke="#26192b" stroke-width="0.9"/>
<line x1="479.30" y1="308.80" x2="479.30" y2="311.40" stroke="#141414" stroke-width="0.8"/>
<text x="481.50" y="318.10" font-size="5.8" text-anchor="end" fill="#1c1c1c" color="#1c1c1c" style="stroke-width:0.2px" transform="rotate(-45 481.50 318.10)">Media</text>
<rect x="487.20" y="281.56" width="10.10" height="27.24" fill="#f7931e" stroke="#875010" stroke-width="0.5"/>
<line x1="492.50" y1="277.30" x2="492.50" y2="285.30" stroke="#26192b" stroke-width="1.0"/>
<line x1="490.25" y1="277.30" x2="494.25" y2="277.30" stroke="#26192b" stroke-width="0.9"/>
<line x1="490.25" y1="285.30" x2="494.25" y2="285.30" stroke="#26192b" stroke-width="0.9"/>
<line x1="492.25" y1="308.80" x2="492.25" y2="311.40" stroke="#141414" stroke-width="0.8"/>
<text x="494.45" y="318.10" font-size="5.8" text-anchor="end" fill="#1c1c1c" color="#1c1c1c" style="stroke-width:0.2px" transform="rotate(-45 494.45 318.10)">Uninfected</text>
<rect x="500.15" y="296.15" width="10.10" height="12.65" fill="#3aaa35" stroke="#1f5d1d" stroke-width="0.5"/>
<line x1="505.50" y1="294.90" x2="505.50" y2="297.70" stroke="#26192b" stroke-width="1.0"/>
<line x1="503.20" y1="294.90" x2="507.20" y2="294.90" stroke="#26192b" stroke-width="0.9"/>
<line x1="503.20" y1="297.70" x2="507.20" y2="297.70" stroke="#26192b" stroke-width="0.9"/>
<line x1="505.20" y1="308.80" x2="505.20" y2="311.40" stroke="#141414" stroke-width="0.8"/>
<text x="507.40" y="318.10" font-size="5.8" text-anchor="end" fill="#1c1c1c" color="#1c1c1c" style="stroke-width:0.2px" transform="rotate(-45 507.40 318.10)">Infected</text>
<path d="M0.5 347 V0.5 H519.5 V347" fill="none" stroke="#5a5a5a" stroke-width="1"/>
<line x1="0" y1="346.5" x2="520" y2="346.5" stroke="#666" stroke-width="1"/>
<line x1="1" y1="345.5" x2="519" y2="345.5" stroke="#d0d0d0" stroke-width="1"/>
</svg>
</body></html>
